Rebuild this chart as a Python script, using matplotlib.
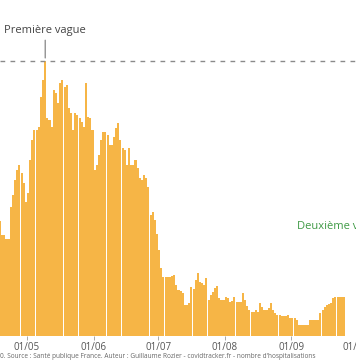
import matplotlib
matplotlib.use("Agg")
import matplotlib.pyplot as plt
import matplotlib.transforms as mtransforms

# Day offsets relative to 1 May (visible window: 18 Apr -> 30 Sep)
day_start = -13
hosp = [115, 101, 101, 97, 97, 129, 141, 156, 166, 171, 163, 153, 134, 143,
        176, 196, 206, 206, 209, 239, 256, 275, 218, 216, 209, 246, 243, 233,
        253, 256, 249, 251, 228, 223, 206, 223, 221, 218, 214, 209, 253, 219,
        218, 206, 166, 171, 181, 196, 204, 204, 201, 191, 191, 199, 208, 213,
        196, 188, 186, 171, 188, 171, 171, 176, 168, 158, 156, 161, 158, 149,
        121, 124, 116, 102, 86, 68, 59, 59, 59, 59, 60, 61, 51, 46, 45, 43,
        31, 31, 33, 49, 47, 56, 63, 54, 53, 51, 58, 36, 41, 44, 48, 50, 38,
        36, 36, 39, 38, 34, 35, 39, 34, 34, 34, 43, 36, 30, 26, 24, 24, 26,
        24, 33, 29, 26, 26, 28, 33, 26, 23, 21, 21, 20, 20, 20, 21, 18, 18,
        18, 16, 11, 11, 11, 11, 11, 16, 16, 16, 16, 16, 23, 26, 29, 31, 32,
        33, 38, 39, 39, 39, 39, 39]
days = list(range(day_start, day_start + len(hosp)))
tick_days = [0, 31, 61, 92, 123, 153]
tick_labels = ["01/05", "01/06", "01/07", "01/08", "01/09", "01/10"]
peak_label = "Première vague"
second_label = "Deuxième vague"
source = ("0. Source : Santé publique France. Auteur : Guillaume Rozier - "
          "covidtracker.fr - nombre d'hospitalisations")

plt.rcParams['font.family'] = ['Open Sans', 'DejaVu Sans']

W, H = 356, 364
fig = plt.figure(figsize=(W / 100, H / 100), dpi=100)
fig.patch.set_facecolor("white")
ax = fig.add_axes([0, 28 / H, 1, 336 / H])
ax.set_facecolor("white")

ax.bar(days, hosp, width=0.94, color="#F6B546", linewidth=0)

peak = max(hosp)
peak_day = days[hosp.index(peak)]
ax.axhline(peak, color="#8a8a8a", linewidth=1.0, dashes=(3.4, 3.8), zorder=3)

ax.set_xlim(-13.02, 152.56)
ax.set_ylim(0, 336)

for s in ax.spines.values():
    s.set_visible(False)
ax.set_yticks([])
# ticks mark the start of each month's first day
tick_pos = [d - 0.5 for d in tick_days]
vis = [i for i, p in enumerate(tick_pos) if p <= 152.5]
ax.set_xticks([tick_pos[i] for i in vis])
ax.set_xticklabels([tick_labels[i] for i in vis])
ax.tick_params(axis="x", length=3, width=0.6, color="#9a9a9a",
               labelcolor="#555555", labelsize=7, pad=1.5)

# partially visible last tick label (the reference is cropped at the right)
trans = mtransforms.blended_transform_factory(ax.transData, fig.transFigure)
for i, (p, lab) in enumerate(zip(tick_pos, tick_labels)):
    if i not in vis:
        ax.text(p, 1 - 343 / H, lab, transform=trans, ha="center", va="center",
                fontsize=7, color="#555555", clip_on=False)

# annotation for first wave
ax.annotate(peak_label, xy=(peak_day, peak + 3), xytext=(peak_day, peak + 25),
            ha="center", va="bottom", fontsize=8, color="#444444",
            arrowprops=dict(arrowstyle="-", color="#777777", lw=0.8,
                            shrinkA=1, shrinkB=0))

ax.text(125.1, 110, second_label, ha="left", va="center", fontsize=8,
        color="#3f9a45", clip_on=False)

fig.text(0, 1 - 357 / H, source, ha="left", va="center", fontsize=4.7,
         color="#666666")

fig.savefig("out.png", dpi=100, facecolor="white")
